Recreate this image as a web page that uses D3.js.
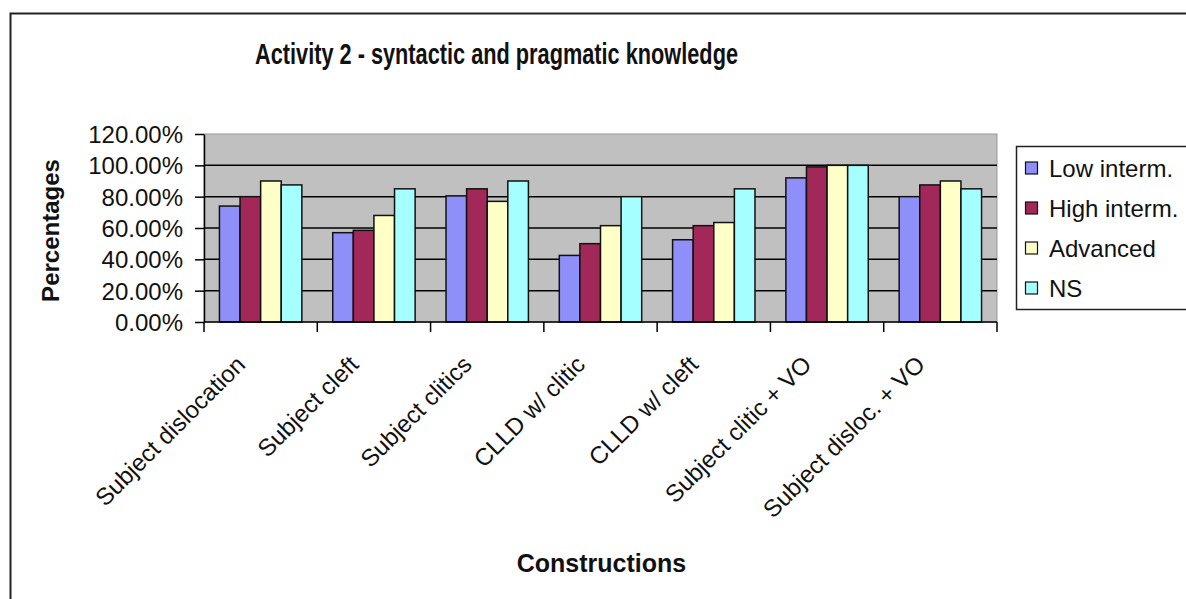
<!DOCTYPE html>
<html>
<head>
<meta charset="utf-8">
<script src="https://cdn.jsdelivr.net/npm/d3@7"></script>
<style>
html,body{margin:0;padding:0;background:#fff;}
svg{display:block;font-family:"Liberation Sans",Arial,sans-serif;}
</style>
</head>
<body>
<svg id="chart" width="1186" height="599"></svg>
<script>
const categories = ["Subject dislocation","Subject cleft","Subject clitics","CLLD w/ clitic","CLLD w/ cleft","Subject clitic + VO","Subject disloc. + VO"];
const seriesNames = ["Low interm.","High interm.","Advanced","NS"];
const lowInterm = [74, 57, 80.5, 42.5, 52.5, 92, 80];
const highInterm = [80, 58.5, 85, 50, 61.5, 99, 87.5];
const advanced = [90, 68, 77, 61.5, 63.5, 100, 90];
const ns = [87.5, 85, 90, 80, 85, 100, 85];
const yTicks = [0, 20, 40, 60, 80, 100, 120];
const colors = ["#8F8FFA","#A3285A","#FFFFC8","#A6FFFF"];
const title = "Activity 2 - syntactic and pragmatic knowledge";
const yTitle = "Percentages";
const xTitle = "Constructions";

const seriesValues = [lowInterm, highInterm, advanced, ns];
const svg = d3.select("#chart");

// outer chart border
svg.append("rect").attr("x",10.5).attr("y",13.5).attr("width",1200).attr("height",620)
  .attr("fill","#fff").attr("stroke","#222").attr("stroke-width",2);

const L=204, R=997, T=134, B=322;
const x = d3.scaleBand().domain(categories).range([L,R]).paddingInner(0.2727).paddingOuter(0.13635);
const xs = d3.scaleBand().domain(seriesNames).range([0,x.bandwidth()]);
const y = d3.scaleLinear().domain([0,120]).range([B,T]);

// plot background
svg.append("rect").attr("x",L).attr("y",T).attr("width",R-L).attr("height",B-T)
  .attr("fill","#C0C0C0").attr("stroke","#9a9a9a").attr("stroke-width",1);

// gridlines
svg.append("g").selectAll("line").data(yTicks.filter(t=>t>0 && t<120)).join("line")
  .attr("x1",L).attr("x2",R).attr("y1",d=>y(d)).attr("y2",d=>y(d))
  .attr("stroke","#000").attr("stroke-width",1.5);

// bars
const groups = svg.append("g").selectAll("g").data(categories).join("g")
  .attr("transform",c=>`translate(${x(c)},0)`);
groups.selectAll("rect").data((c,i)=>seriesNames.map((s,j)=>({s,j,v:seriesValues[j][i]}))).join("rect")
  .attr("x",d=>xs(d.s)).attr("width",xs.bandwidth())
  .attr("y",d=>y(d.v)).attr("height",d=>y(0)-y(d.v))
  .attr("fill",d=>colors[d.j]).attr("stroke","#111").attr("stroke-width",1.5);

// y axis
const yAxis = d3.axisLeft(y).tickValues(yTicks).tickSize(9).tickSizeOuter(0)
  .tickFormat(d=>d3.format(".2%")(d/100));
const gy = svg.append("g").attr("transform",`translate(${L},0)`).call(yAxis);
gy.select(".domain").attr("stroke","#000").attr("stroke-width",1.5);
gy.selectAll(".tick line").attr("stroke","#000").attr("stroke-width",1.5);
gy.selectAll(".tick text").attr("x",-21).attr("dy","0.36em")
  .attr("font-size",24).attr("fill","#111").attr("font-family","Liberation Sans, Arial, sans-serif");

// x axis
const gx = svg.append("g").attr("transform",`translate(0,${B})`);
gx.append("line").attr("x1",L).attr("x2",R).attr("stroke","#000").attr("stroke-width",1.5);
const bounds = d3.range(categories.length+1).map(i=> L + i*x.step()*(R-L)/(x.step()*categories.length));
gx.selectAll("line.tk").data(bounds).join("line").attr("class","tk")
  .attr("x1",d=>d).attr("x2",d=>d).attr("y1",0).attr("y2",10)
  .attr("stroke","#000").attr("stroke-width",1.5);
gx.selectAll("text").data(categories).join("text")
  .attr("text-anchor","end")
  .attr("transform",c=>`translate(${x(c)+x.bandwidth()/2-14},${44}) rotate(-45)`)
  .attr("font-size",24).attr("fill","#111").text(c=>c);

// titles
svg.append("text").attr("x",496.5).attr("y",63.5).attr("text-anchor","middle")
  .attr("font-size",29).attr("font-weight","bold").attr("fill","#111")
  .attr("textLength",483).attr("lengthAdjust","spacingAndGlyphs").text(title);
svg.append("text").attr("transform","translate(59,230.5) rotate(-90)").attr("text-anchor","middle")
  .attr("font-size",24).attr("font-weight","bold").attr("fill","#111").text(yTitle);
svg.append("text").attr("x",601.5).attr("y",571.5).attr("text-anchor","middle")
  .attr("font-size",25).attr("font-weight","bold").attr("fill","#111").text(xTitle);

// legend
const lg = svg.append("g");
lg.append("rect").attr("x",1016.5).attr("y",146.5).attr("width",200).attr("height",163)
  .attr("fill","#fff").attr("stroke","#222").attr("stroke-width",1.5);
const li = lg.selectAll("g.it").data(seriesNames).join("g").attr("class","it")
  .attr("transform",(d,i)=>`translate(1025,${168+40*i})`);
li.append("rect").attr("x",0.5).attr("y",-6).attr("width",12).attr("height",12)
  .attr("fill",(d,i)=>colors[i]).attr("stroke","#111").attr("stroke-width",1.2);
li.append("text").attr("x",24).attr("dy","0.36em").attr("font-size",24).attr("fill","#111").text(d=>d);
</script>
</body>
</html>
